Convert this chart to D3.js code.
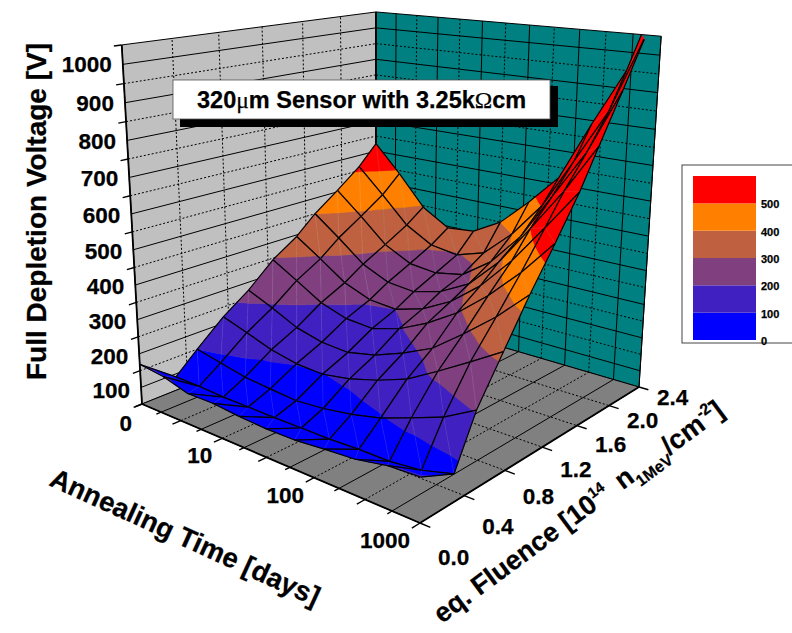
<!DOCTYPE html>
<html>
<head>
<meta charset="utf-8">
<script src="https://cdn.jsdelivr.net/npm/d3@7"></script>
<style>
  html, body { margin: 0; padding: 0; background: #fff; }
  text { font-family: 'Liberation Sans', Arial, sans-serif; font-weight: bold; fill: #000; stroke: #000; stroke-width: 0.25; }
</style>
</head>
<body>
<div id="chart"></div>
<script>
// =========================================================
// 3D surface: full depletion voltage vs fluence and annealing time
// =========================================================
const W = 792, H = 633;

// --- data ---
const fluenceGrid = [0, 0.3, 0.5, 0.75, 1.0, 1.25, 1.5, 1.7, 1.95, 2.2, 2.4];
const timeGrid = [1, 2, 4, 8, 16, 32, 64, 128, 256, 512, 1000];

// one row per fluence, one column per annealing time
const v00 = [119, 110, 89, 90, 83, 79, 80, 88, 94, 111, 115];
const v03 = [41, 40, 36, 36, 35, 36, 36, 40, 40, 50, 73];
const v05 = [100, 84, 68, 61, 55, 62, 75, 95, 126, 158, 205];
const v075 = [170, 145, 118, 102, 98, 112, 136, 167, 216, 268, 320];
const v10 = [225, 192, 155, 135, 130, 148, 180, 220, 285, 355, 435];
const v125 = [295, 250, 203, 177, 171, 195, 236, 289, 360, 445, 540];
const v15 = [345, 293, 238, 207, 200, 225, 270, 338, 430, 540, 650];
const v17 = [400, 340, 276, 240, 232, 255, 300, 385, 500, 620, 753];
const v195 = [455, 387, 314, 273, 264, 280, 340, 435, 570, 705, 880];
const v22 = [513, 436, 354, 308, 296, 322, 400, 503, 650, 800, 1010];
const v24 = [575, 490, 395, 345, 353, 400, 480, 570, 740, 900, 1150];
const voltage = [v00, v03, v05, v075, v10, v125, v15, v17, v195, v22, v24];

const voltTicks = [0, 100, 200, 300, 400, 500, 600, 700, 800, 900, 1000];
const fluenceTicks = [0, 0.4, 0.8, 1.2, 1.6, 2.0, 2.4];
const timeLabels = [10, 100, 1000];
const bandEdges = [0, 100, 200, 300, 400, 500];
const bandColors = ['#0000ff', '#4020c0', '#804080', '#bf6040', '#ff8000', '#ff0000'];

// --- scales ---
const uScale = d3.scaleLinear().domain([0, 2.4]).range([0, 1]);
const vScale = d3.scaleLog().domain([1, 1000]).range([0, 1]);
const zScale = d3.scaleLinear().domain([0, 1000]).range([0, 1]);

// floor corners in pixels (perspective box), then the vanishing point of the verticals
const A = [142, 404], B = [376, 310], C = [639, 387], D = [420, 523];
const VP = [376, 4550], TOP_K = -0.0797;

const dx1 = B[0] - C[0], dx2 = D[0] - C[0], sx = A[0] - B[0] + C[0] - D[0];
const dy1 = B[1] - C[1], dy2 = D[1] - C[1], sy = A[1] - B[1] + C[1] - D[1];
const den = dx1 * dy2 - dx2 * dy1;
const g = (sx * dy2 - dx2 * sy) / den;
const h = (dx1 * sy - sx * dy1) / den;

function projectUV(u, v, z) {
  const w = 1 + g * u + h * v;
  const nx = A[0] + (B[0] * (1 + g) - A[0]) * u + (D[0] * (1 + h) - A[0]) * v;
  const ny = A[1] + (B[1] * (1 + g) - A[1]) * u + (D[1] * (1 + h) - A[1]) * v;
  const t = z * TOP_K;
  return [(nx + t * VP[0]) / (w + t), (ny + t * VP[1]) / (w + t)];
}
const project = (f, d, volt) => projectUV(uScale(f), vScale(d), zScale(volt));

const svg = d3.select('#chart').append('svg').attr('width', W).attr('height', H)
  .style('display', 'block');
const line = d3.line();

function seg(a, b, cls) {
  return svg.append('path').attr('d', line([a, b])).attr('fill', 'none')
    .attr('stroke', '#000').attr('stroke-width', cls === 'axis' ? 1.8 : 1)
    .attr('stroke-dasharray', cls === 'dash' ? '2 2' : null);
}

// --- walls and floor ---
const wallPoly = (pts, fill) => svg.append('path').attr('d', line(pts) + 'Z')
  .attr('fill', fill).attr('stroke', '#000').attr('stroke-width', 1);

wallPoly([projectUV(0, 0, 0), projectUV(1, 0, 0), projectUV(1, 0, 1), projectUV(0, 0, 1)], '#c0c0c0');
wallPoly([projectUV(1, 0, 0), projectUV(1, 1, 0), projectUV(1, 1, 1), projectUV(1, 0, 1)], '#008080');
wallPoly([projectUV(0, 0, 0), projectUV(1, 0, 0), projectUV(1, 1, 0), projectUV(0, 1, 0)], '#808080');

// horizontals on both walls: dashed at the hundreds, solid between
d3.range(50, 1000, 50).forEach((volt) => {
  const kind = volt % 100 === 0 ? 'dash' : 'solid';
  seg(project(0, 1, volt), project(2.4, 1, volt), kind);
  seg(project(2.4, 1, volt), project(2.4, 1000, volt), kind);
});
// fluence lines: left wall and floor
fluenceTicks.slice(1, -1).forEach((f) => {
  seg(project(f, 1, 0), project(f, 1, 1000), 'dash');
  seg(project(f, 1, 0), project(f, 1000, 0), 'dash');
});
// time lines: right wall and floor, every quarter decade
d3.range(1, 12).forEach((k) => {
  const d = Math.pow(10, k / 4);
  const kind = k % 2 === 0 ? 'dash' : 'solid';
  seg(project(2.4, d, 0), project(2.4, d, 1000), kind);
  seg(project(0, d, 0), project(2.4, d, 0), kind);
});

// the back corner and the axis edges
seg(project(2.4, 1, 0), project(2.4, 1, 1000), 'axis');
seg(project(0, 1, 0), project(0, 1, 1000), 'axis');
seg(project(0, 1, 0), project(0, 1000, 0), 'axis');
seg(project(0, 1000, 0), project(2.4, 1000, 0), 'axis');
seg(project(2.4, 1000, 0), project(2.4, 1000, 1000), 'solid');

// --- ticks ---
voltTicks.forEach((volt) => seg(project(0, 1, volt), project(-0.06, 1, volt), 'solid').attr('stroke-width', 1.4));
d3.range(0, 13).forEach((k) => {
  seg(project(0, Math.pow(10, k / 4), 0), project(k % 2 === 0 ? -0.07 : -0.04, Math.pow(10, k / 4), 0), 'solid').attr('stroke-width', 1.4);
});
fluenceTicks.forEach((f) => seg(project(f, 1000, 0), project(f, 1000 * Math.pow(10, 0.09), 0), 'solid').attr('stroke-width', 1.4));

// --- surface ---
// clip a polygon of {u, v, z} points against one voltage level
function clipLevel(poly, level, keepAbove) {
  const out = [];
  const inside = (p) => keepAbove ? p.z >= level : p.z <= level;
  poly.forEach((p, i) => {
    const q = poly[(i + 1) % poly.length];
    if (inside(p)) out.push(p);
    if (inside(p) !== inside(q)) {
      const t = (level - p.z) / (q.z - p.z);
      out.push({ u: p.u + t * (q.u - p.u), v: p.v + t * (q.v - p.v), z: level });
    }
  });
  return out;
}
const vert = (i, j) => ({ u: uScale(fluenceGrid[i]), v: vScale(timeGrid[j]), z: voltage[i][j] });
const toPx = (p) => projectUV(p.u, p.v, zScale(p.z));

function clipSegment(a, b) {
  if (a.z <= 1000 && b.z <= 1000) return [a, b];
  if (a.z > 1000 && b.z > 1000) return null;
  const t = (1000 - a.z) / (b.z - a.z);
  const c = { u: a.u + t * (b.u - a.u), v: a.v + t * (b.v - a.v), z: 1000 };
  return a.z > 1000 ? [c, b] : [a, c];
}

const surface = svg.append('g');
// painter's order: far corner first (high fluence, short time)
for (let i = fluenceGrid.length - 2; i >= 0; i--) {
  for (let j = 0; j < timeGrid.length - 1; j++) {
    const p00 = vert(i, j), p10 = vert(i + 1, j), p11 = vert(i + 1, j + 1), p01 = vert(i, j + 1);
    const cell = surface.append('g');
    [[p00, p10, p01], [p10, p11, p01]].forEach((tri) => {
      bandEdges.forEach((lo, b) => {
        const hi = b === bandEdges.length - 1 ? 1000 : bandEdges[b + 1];
        const poly = clipLevel(clipLevel(tri, lo, true), hi, false);
        if (poly.length < 3) return;
        cell.append('path').attr('d', line(poly.map(toPx)) + 'Z')
          .attr('fill', bandColors[b]).attr('stroke', bandColors[b]).attr('stroke-width', 0.5);
      });
    });
    // faint facet diagonal
    const diag = clipSegment(p10, p01);
    if (diag) cell.append('path').attr('d', line(diag.map(toPx)))
      .attr('stroke', 'rgba(255,255,255,0.09)').attr('stroke-width', 1).attr('fill', 'none');
    [[p00, p10], [p10, p11], [p11, p01], [p01, p00]].forEach(([a, b]) => {
      const s = clipSegment(a, b);
      if (s) cell.append('path').attr('d', line(s.map(toPx)))
        .attr('stroke', '#000').attr('stroke-width', 1.2).attr('fill', 'none');
    });
  }
}

// --- tick labels ---
const tickFont = 22.5;
voltTicks.forEach((volt) => {
  const [x, y] = project(0, 1, volt);
  svg.append('text').attr('x', x - 10).attr('y', y + 27).attr('text-anchor', 'end')
    .attr('font-size', tickFont).text(volt);
});
timeLabels.forEach((d) => {
  const [x, y] = project(0, d, 0);
  svg.append('text').attr('x', x - 10).attr('y', y + 25).attr('text-anchor', 'end')
    .attr('font-size', tickFont).text(d);
});
const fluenceDy = d3.scaleLinear().domain([0, 2.4]).range([42, 18]);
fluenceTicks.forEach((f) => {
  const [x, y] = project(f, 1000, 0);
  svg.append('text').attr('x', x + 18).attr('y', y + fluenceDy(f))
    .attr('font-size', tickFont).text(f.toFixed(1));
});

// --- axis titles ---
svg.append('text').attr('transform', 'translate(46,380) rotate(-90)')
  .attr('font-size', 28).text('Full Depletion Voltage [V]');
svg.append('text').attr('transform', 'translate(48,485) rotate(24.5)')
  .attr('font-size', 27.5).text('Annealing Time [days]');

const fl = svg.append('text').attr('transform', 'translate(442,624) rotate(-36.5)').attr('font-size', 27);
fl.append('tspan').text('eq. Fluence [10');
fl.append('tspan').attr('dy', -11).attr('font-size', 15).text('14');
fl.append('tspan').attr('dy', 11).attr('dx', 13).text('n');
fl.append('tspan').attr('dy', 8).attr('font-size', 16).text('1MeV');
fl.append('tspan').attr('dy', -8).text('/cm');
fl.append('tspan').attr('dy', -11).attr('font-size', 16).text('-2');
fl.append('tspan').attr('dy', 11).text(']');

// --- title box ---
svg.append('rect').attr('x', 180).attr('y', 86).attr('width', 378).attr('height', 41).attr('fill', '#000');
svg.append('rect').attr('x', 173).attr('y', 80).attr('width', 377).attr('height', 39)
  .attr('fill', '#fff').attr('stroke', '#555').attr('stroke-width', 0.8);
const title = svg.append('text').attr('x', 197).attr('y', 108).attr('font-size', 23.5);
title.append('tspan').text('320');
title.append('tspan').style('font-family', "'Liberation Serif', serif").style('font-weight', 'normal').text('\u03bc');
title.append('tspan').text('m Sensor with 3.25k');
title.append('tspan').style('font-family', "'Liberation Serif', serif").style('font-weight', 'normal').text('\u03a9');
title.append('tspan').text('cm');

// --- legend ---
svg.append('rect').attr('x', 682).attr('y', 165).attr('width', 130).attr('height', 178)
  .attr('fill', '#fff').attr('stroke', '#444').attr('stroke-width', 1);
const legendY = d3.scaleLinear().domain([0, 600]).range([340, 176]);
bandEdges.forEach((lo, b) => {
  svg.append('rect').attr('x', 693).attr('width', 63)
    .attr('y', legendY(lo + 100)).attr('height', legendY(lo) - legendY(lo + 100))
    .attr('fill', bandColors[b]);
  svg.append('text').attr('x', 761).attr('y', legendY(lo) + 5).attr('font-size', 11).attr('stroke-width', 0).text(lo);
});
</script>
</body>
</html>
